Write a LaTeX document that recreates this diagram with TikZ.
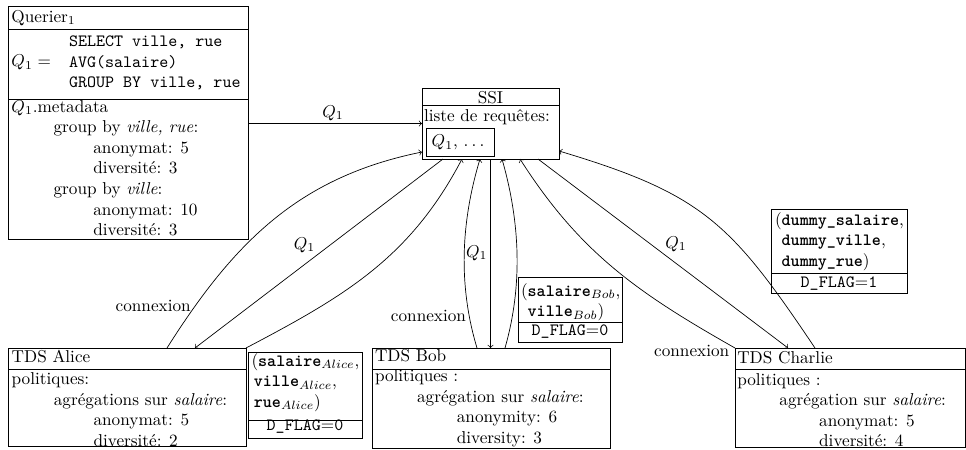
\documentclass[tikz,border=0pt]{standalone}
\usetikzlibrary{calc}

% one drawing unit = one pixel of the layout grid, y pointing down
\newcommand\pxl[1]{#1*0.5814pt}
\newcommand\lvlone{\hspace*{24.5pt}}
\newcommand\lvltwo{\hspace*{47.6pt}}
\newcommand\colname[1]{\texttt{\textbf{#1}}}
\newcommand\spaceddots{.\kern1.9pt.\kern1.9pt.}

\tikzset{
  box/.style={draw, rectangle, inner sep=0pt, outer sep=0pt, anchor=north west},
  txt/.style={inner sep=0pt, outer sep=0pt, anchor=base west},
  lbl/.style={inner sep=0pt, outer sep=0pt},
  conn/.style={->},
}

\begin{document}
\begin{tikzpicture}[x=0.5814pt, y=-0.5814pt]
\path[use as bounding box] (0,0) rectangle (966,449);

% ---------- boxes ----------
\node[box, minimum width=\pxl{240}, minimum height=\pxl{233}] (querier) at (8,6) {};
\draw ($(querier.north west)+(0,23)$) -- ($(querier.north east)+(0,23)$);
\draw ($(querier.north west)+(0,93)$) -- ($(querier.north east)+(0,93)$);

\node[box, minimum width=\pxl{137}, minimum height=\pxl{71}] (ssi) at (422,88) {};
\draw ($(ssi.north west)+(0,17)$) -- ($(ssi.north east)+(0,17)$);
\node[box, minimum width=\pxl{68}, minimum height=\pxl{28}] (qlist) at (426,128) {};

\node[box, minimum width=\pxl{238}, minimum height=\pxl{98}] (alice) at (8,348) {};
\draw ($(alice.north west)+(0,21)$) -- ($(alice.north east)+(0,21)$);
\node[box, minimum width=\pxl{114}, minimum height=\pxl{85.5}] (alicedata) at (248,352.5) {};
\draw ($(alicedata.south west)+(0,-18)$) -- ($(alicedata.south east)+(0,-18)$);

\node[box, minimum width=\pxl{238}, minimum height=\pxl{100}] (bob) at (372,348) {};
\draw ($(bob.north west)+(0,21)$) -- ($(bob.north east)+(0,21)$);
\node[box, minimum width=\pxl{104}, minimum height=\pxl{65}] (bobdata) at (518,277) {};
\draw ($(bobdata.south west)+(0,-20)$) -- ($(bobdata.south east)+(0,-20)$);

\node[box, minimum width=\pxl{230}, minimum height=\pxl{99}] (charlie) at (735,348) {};
\draw ($(charlie.north west)+(0,21)$) -- ($(charlie.north east)+(0,21)$);
\node[box, minimum width=\pxl{136}, minimum height=\pxl{84}] (dummy) at (771,209) {};
\draw ($(dummy.south west)+(0,-20)$) -- ($(dummy.south east)+(0,-20)$);

% ---------- querier ----------
\node[txt] (qhead) at (11.5,22) {Querier$_1$};
\node[txt] (qeq) at (11.5,66.7) {$Q_1 =$};
\node[txt] (qcode) at (69,46.7) {\begin{tabular}[t]{@{}l@{}}
  \texttt{SELECT ville, rue}\\
  \texttt{AVG(salaire)}\\
  \texttt{GROUP BY ville, rue}
\end{tabular}};
\node[txt] (qmeta) at (11.5,112) {\begin{tabular}[t]{@{}l@{}}
  $Q_1$.metadata\\
  \lvlone group by \emph{ville, rue}:\\
  \lvltwo anonymat: 5\\
  \lvltwo diversité: 3\\
  \lvlone group by \emph{ville}:\\
  \lvltwo anonymat: 10\\
  \lvltwo diversité: 3
\end{tabular}};

% ---------- SSI ----------
\node[txt, anchor=base] (ssihead) at (490.5,103) {SSI};
\node[txt] (ssilist) at (424,121.7) {liste de requêtes:};
\node[txt] (qlisttxt) at (431.7,146.7) {$Q_1$, \spaceddots};

% ---------- Alice ----------
\node[txt] (alicehead) at (11.7,362.7) {TDS Alice};
\node[txt] (alicepol) at (11.7,384.5) {\begin{tabular}[t]{@{}l@{}}
  politiques:\\
  \lvlone agrégations sur \emph{salaire}:\\
  \lvltwo anonymat: 5\\
  \lvltwo diversité: 2
\end{tabular}};
\node[txt] (alicetup) at (251.5,366) {\begin{tabular}[t]{@{}l@{}}
  (\colname{salaire}$_{Alice}$,\\
  \hspace*{1.4pt}\colname{ville}$_{Alice}$,\\
  \hspace*{1.4pt}\colname{rue}$_{Alice}$)
\end{tabular}};
\node[txt, anchor=base] (aliceflag) at (305,430) {\texttt{D\_FLAG}$=$\texttt{0}};

% ---------- Bob ----------
\node[txt] (bobhead) at (375,361.7) {TDS Bob};
\node[txt] (bobpol) at (375,381.7) {\begin{tabular}[t]{@{}l@{}}
  politiques :\\
  \lvlone agrégation sur \emph{salaire}:\\
  \lvltwo anonymity: 6\\
  \lvltwo diversity: 3
\end{tabular}};
\node[txt] (bobtup) at (521,296) {\begin{tabular}[t]{@{}l@{}}
  (\colname{salaire}$_{Bob}$,\\
  \phantom{(}\colname{ville}$_{Bob}$)
\end{tabular}};
\node[txt, anchor=base] (bobflag) at (570,335) {\texttt{D\_FLAG}$=$\texttt{0}};

% ---------- Charlie ----------
\node[txt] (charliehead) at (737.3,363.3) {TDS Charlie};
\node[txt] (charliepol) at (737.3,385) {\begin{tabular}[t]{@{}l@{}}
  politiques :\\
  \lvlone agrégation sur \emph{salaire}:\\
  \lvltwo anonymat: 5\\
  \lvltwo diversité: 4
\end{tabular}};
\node[txt] (dummytup) at (775,225) {\begin{tabular}[t]{@{}l@{}}
  (\colname{dummy\_salaire},\\
  \phantom{(}\colname{dummy\_ville},\\
  \phantom{(}\colname{dummy\_rue})
\end{tabular}};
\node[txt, anchor=base] (dummyflag) at (839,287.3) {\texttt{D\_FLAG}$=$\texttt{1}};

% ---------- connectors ----------
% query submitted to the SSI
\draw[conn] (querier.east |- ssi.west) -- (ssi.west);
\node[lbl] (lq0) at (333,113) {$Q_1$};

% Alice
\draw[conn] ($(alice.north west)+(159,0)$) .. controls +(67,-106) and +(-123,25) .. ($(ssi.south west)+(0,-7)$);
\draw[conn] ($(ssi.south west)+(21,0)$) -- ($(alice.north west)+(187,0)$);
\draw[conn] (alice.north east) .. controls +(99,-52) and +(-52,99) .. ($(ssi.south west)+(40,0)$);
\node[lbl] (lqa) at (304.5,245) {$Q_1$};
\node[txt, anchor=base] (lca) at (153.2,311) {connexion};

% Bob
\draw[conn] ($(bob.north west)+(105,0)$) .. controls +(-19,-63) and +(-19,63) .. ($(ssi.south west)+(58,0)$);
\draw[conn] (ssi.south) -- (ssi.south |- bob.north);
\draw[conn] ($(bob.north west)+(133,0)$) .. controls +(18,-63) and +(18,63) .. ($(ssi.south west)+(80,0)$);
\node[lbl] (lqb) at (476.7,253) {$Q_1$};
\node[txt, anchor=base] (lcb) at (428.5,321) {connexion};

% Charlie
\draw[conn] (charlie.north west) .. controls +(-97,-55) and +(60,94) .. ($(ssi.south west)+(98,0)$);
\draw[conn] ($(ssi.south west)+(116,0)$) -- ($(charlie.north west)+(53,0)$);
\draw[conn] ($(charlie.north west)+(80,0)$) .. controls +(-84,-125) and +(144,43) .. ($(ssi.south east)+(0,-8)$);
\node[lbl] (lqc) at (676,244) {$Q_1$};
\node[txt, anchor=base] (lcc) at (691.7,356) {connexion};
\end{tikzpicture}
\end{document}
